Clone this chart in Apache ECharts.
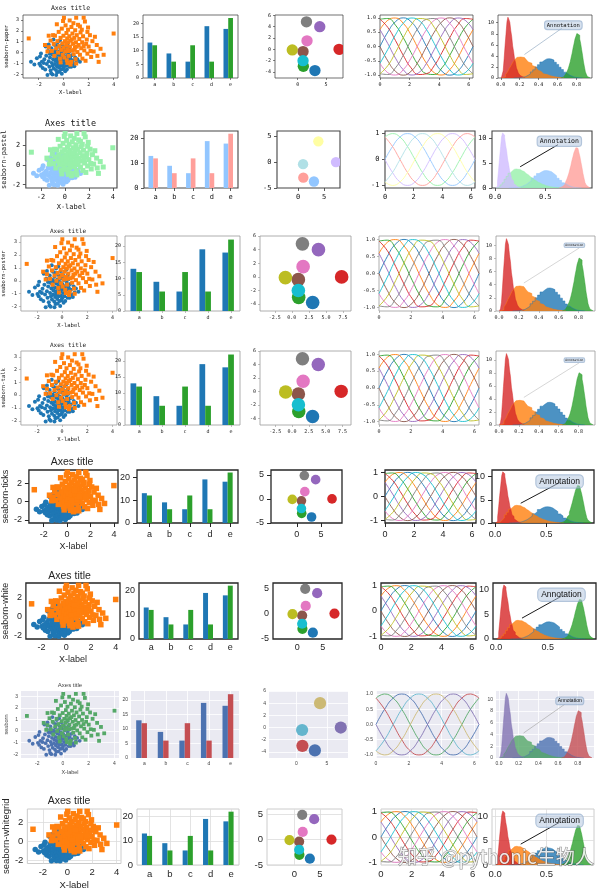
<!DOCTYPE html>
<html><head><meta charset="utf-8">
<script src="https://cdn.jsdelivr.net/npm/echarts@6/dist/echarts.min.js"></script>
<style>html,body{margin:0;padding:0;background:#fff}#c{width:600px;height:891px}</style>
</head><body><div id="c"></div>
<script>
// ---------------- DATA ----------------
const styleNames = ['seaborn-paper','seaborn-pastel','seaborn-poster','seaborn-talk','seaborn-ticks','seaborn-white','seaborn','seaborn-whitegrid'];
const barCategories = ['a','b','c','d','e'];
const barA = [13, 9, 6, 19, 18];
const barB = [12, 6, 12, 6, 22];
const scatterBlue = [[-2.62,-0.84],[-2.15,-0.52],[-1.95,-1.02],[-1.82,-0.08],[-1.68,-1.42],[-1.55,-0.62],[-1.48,-1.55],[-1.40,-0.30],[-1.35,-1.05],[-1.30,-2.05],[-1.25,0.15],[-1.20,-0.80],[-1.15,-1.30],[-1.10,-0.45],[-1.05,-1.65],[-1.00,-1.90],[-0.98,0.40],[-0.95,-0.95],[-0.92,-0.15],[-0.88,-1.20],[-0.85,-0.60],[-0.82,1.20],[-0.80,-1.45],[-0.76,-0.30],[-0.72,0.70],[-0.70,-1.05],[-0.68,-0.75],[-0.65,-0.05],[-0.62,-1.60],[-0.60,0.30],[-0.58,-0.50],[-0.55,-1.25],[-0.52,-1.80],[-0.50,-0.85],[-0.48,0.95],[-0.46,-0.20],[-0.44,-1.05],[-0.42,0.55],[-0.40,-0.60],[-0.38,-1.40],[-0.35,0.10],[-0.33,-0.95],[-0.30,1.10],[-0.28,-0.35],[-0.26,-1.20],[-0.24,0.40],[-0.22,-0.70],[-0.20,-1.55],[-0.18,-0.10],[-0.15,-0.85],[-0.12,0.75],[-0.10,-0.45],[-0.08,-1.15],[-0.05,0.20],[-0.03,-0.65],[0.00,-1.35],[0.02,-0.25],[0.05,0.50],[0.08,-0.95],[0.10,-0.50],[0.12,-1.70],[0.15,0.05],[0.18,-0.75],[0.20,-1.20],[0.23,0.30],[0.26,-0.40],[0.30,-0.95],[0.33,0.85],[0.36,-0.15],[0.40,-0.65],[0.44,-1.30],[0.48,0.10],[0.52,-0.50],[0.56,-0.95],[0.60,-1.30],[0.65,-0.25],[0.70,-0.70],[0.78,-1.05],[0.85,-1.25],[0.92,-0.45],[1.00,-0.90],[1.10,-0.60],[1.30,-0.85],[-1.60,-0.95],[-1.45,0.55],[-1.12,-0.10],[-0.90,-2.00],[-0.75,0.05],[-0.60,-2.05],[-0.35,-1.75],[-0.15,-1.95],[-2.35,-1.10],[-1.90,-0.35],[-1.75,-0.85],[-0.05,-1.50],[0.25,-1.55],[-1.20,0.75],[-0.55,0.60],[0.45,0.45],[-1.85,-1.20]];
const scatterOrange = [[-2.80,1.30],[4.00,1.75],[2.80,-0.85],[3.20,-0.20],[2.95,0.35],[2.65,0.70],[2.40,0.10],[2.30,1.05],[2.20,-0.40],[2.10,1.60],[2.00,0.55],[1.95,2.30],[1.90,-0.10],[1.85,1.20],[1.80,0.80],[1.70,2.85],[1.65,0.20],[1.60,3.20],[1.55,1.50],[1.50,-0.55],[1.48,0.95],[1.45,2.10],[1.40,0.40],[1.35,1.85],[1.30,-0.20],[1.25,1.25],[1.20,0.70],[1.15,2.55],[1.10,0.05],[1.05,1.60],[1.00,3.20],[0.98,0.95],[0.95,-0.60],[0.92,2.05],[0.90,0.45],[0.85,1.35],[0.80,-0.15],[0.78,2.70],[0.75,0.80],[0.70,1.75],[0.65,0.20],[0.62,2.35],[0.60,-0.85],[0.55,1.10],[0.50,0.55],[0.48,2.95],[0.45,1.50],[0.40,-0.30],[0.38,0.95],[0.35,2.10],[0.30,0.30],[0.28,1.30],[0.25,-0.70],[0.22,1.80],[0.20,0.70],[0.15,2.50],[0.12,0.10],[0.10,1.05],[0.05,-0.45],[0.02,3.20],[0.00,0.45],[-0.02,1.55],[-0.05,2.90],[-0.08,-0.20],[-0.10,0.85],[-0.15,2.20],[-0.20,0.25],[-0.25,1.35],[-0.30,-0.55],[-0.35,0.60],[-0.40,1.90],[-0.45,0.00],[-0.50,1.05],[-0.55,2.60],[-0.60,0.40],[-0.70,1.55],[-0.75,-0.30],[-0.80,0.80],[-0.85,1.60],[-0.95,0.15],[-1.05,1.10],[-1.20,0.50],[-1.30,0.10],[-1.50,0.70],[-1.20,1.55],[2.50,1.45],[1.75,-0.75],[2.15,0.15],[1.00,-1.00],[0.55,-1.10],[1.30,2.40],[0.85,0.25],[1.60,0.60],[0.30,-0.95],[2.70,-0.30],[-0.25,-0.90],[1.05,0.55],[0.65,1.20],[0.40,0.15],[1.90,1.90]];
// circle centres by colour-cycle index (index 1 lies outside the view)
const circleX = [3.05, null, 1.0, 7.3, 3.9, 0.95, 1.65, 1.55, -0.95, 0.95];
const circleY = [-3.75, null, -3.0, 0.0, 4.0, -0.4, 1.5, 4.85, -0.1, -2.0];
const circleRadius = 1.0;
// sinusoid samples
const sineX = [0, 0.524, 1.047, 1.571, 2.094, 2.618, 3.142, 3.665, 4.189, 4.712, 5.236, 5.760, 6.283];
const sine10 = [
 [0,0.5,0.866,1,0.866,0.5,0,-0.5,-0.866,-1,-0.866,-0.5,0],
 [0.588,0.914,0.995,0.809,0.407,-0.105,-0.588,-0.914,-0.995,-0.809,-0.407,0.105,0.588],
 [0.951,0.978,0.743,0.309,-0.208,-0.669,-0.951,-0.978,-0.743,-0.309,0.208,0.669,0.951],
 [0.951,0.669,0.208,-0.309,-0.743,-0.978,-0.951,-0.669,-0.208,0.309,0.743,0.978,0.951],
 [0.588,0.105,-0.407,-0.809,-0.995,-0.914,-0.588,-0.105,0.407,0.809,0.995,0.914,0.588],
 [0,-0.5,-0.866,-1,-0.866,-0.5,0,0.5,0.866,1,0.866,0.5,0],
 [-0.588,-0.914,-0.995,-0.809,-0.407,0.105,0.588,0.914,0.995,0.809,0.407,-0.105,-0.588],
 [-0.951,-0.978,-0.743,-0.309,0.208,0.669,0.951,0.978,0.743,0.309,-0.208,-0.669,-0.951],
 [-0.951,-0.669,-0.208,0.309,0.743,0.978,0.951,0.669,0.208,-0.309,-0.743,-0.978,-0.951],
 [-0.588,-0.105,0.407,0.809,0.995,0.914,0.588,0.105,-0.407,-0.809,-0.995,-0.914,-0.588]
];
const sine6 = [
 [0,0.5,0.866,1,0.866,0.5,0,-0.5,-0.866,-1,-0.866,-0.5,0],
 [0.866,1,0.866,0.5,0,-0.5,-0.866,-1,-0.866,-0.5,0,0.5,0.866],
 [0.866,0.5,0,-0.5,-0.866,-1,-0.866,-0.5,0,0.5,0.866,1,0.866],
 [0,-0.5,-0.866,-1,-0.866,-0.5,0,0.5,0.866,1,0.866,0.5,0],
 [-0.866,-1,-0.866,-0.5,0,0.5,0.866,1,0.866,0.5,0,-0.5,-0.866],
 [-0.866,-0.5,0,0.5,0.866,1,0.866,0.5,0,-0.5,-0.866,-1,-0.866]
];
// histograms (density), in plotting order C0..C3
const histBlueLeft = 0.1375, histBlueWidth = 0.025;
const histBlue = [0.01,0.03,0.06,0.15,0.25,0.48,0.71,1.1,1.48,2.0,2.42,2.9,3.2,3.46,3.5,3.42,3.25,2.85,2.46,1.95,1.53,1.06,0.74,0.45,0.27,0.13,0.07,0.02,0.01];
const histOrangeLeft = 0.01, histOrangeWidth = 0.02;
const histOrange = [0.05,0.2,0.62,1.05,1.75,2.3,2.95,3.35,3.72,3.8,3.74,3.7,3.45,3.28,2.9,2.66,2.28,2.02,1.66,1.46,1.15,0.98,0.75,0.63,0.46,0.38,0.27,0.22,0.14,0.12,0.07,0.06,0.03];
const histGreenLeft = 0.635, histGreenWidth = 0.01;
const histGreen = [0.07,0.13,0.2,0.33,0.46,0.68,0.93,1.33,1.76,2.33,2.95,3.75,4.5,5.45,6.2,7.05,7.55,8.05,7.95,7.75,7.05,6.25,5.15,4.1,2.9,2.0,1.1,0.66,0.28,0.13,0.04];
const histRedLeft = 0.005, histRedWidth = 0.01;
const histRed = [0.03,0.35,1.3,3.5,5.9,8.0,10.2,11.0,10.6,10.1,8.6,7.5,5.8,4.8,3.5,2.8,1.8,1.4,0.9,0.6,0.45,0.25,0.18,0.1,0.06];
const annotationText = 'Annotation';
const annotationXY = [0.25, 4.25];
// tick labels
const scatterXTicks = [-2, 0, 2, 4];
const scatterYTicksFine = [-2, -1, 0, 1, 2, 3], scatterYTicksCoarse = [-2, 0, 2];
const barYTicksFine = [0, 5, 10, 15, 20], barYTicksCoarse = [0, 10, 20];
const circleYTicksFine = [-4, -2, 0, 2, 4, 6], circleYTicksCoarse = [-5, 0, 5];
const circleXTicks = [0, 5], circleXTicksWide = [-2.5, 0, 2.5, 5, 7.5];
const sineXTicks = [0, 2, 4, 6];
const sineYTicksFine = [-1, -0.5, 0, 0.5, 1], sineYTicksCoarse = [-1, 0, 1];
const histXTicksFine = [0, 0.2, 0.4, 0.6, 0.8], histXTicksCoarse = [0, 0.5];
const histYTicksFine = [0, 2, 4, 6, 8, 10], histYTicksCoarse = [0, 5, 10];
const watermark = '知乎 @pythonic生物人';

// ---------------- STYLES / LAYOUT ----------------
const tab10 = ['#1f77b4','#ff7f0e','#2ca02c','#d62728','#9467bd','#8c564b','#e377c2','#7f7f7f','#bcbd22','#17becf'];
const pastel = ['#92C6FF','#97F0AA','#FF9F9A','#D0BBFF','#FFFEA3','#B0E0E6'];
const deep = ['#4C72B0','#55A868','#C44E52','#8172B2','#CCB974','#64B5CD'];
const palettes = {tab10, pastel, deep};
const MONO = '"DejaVu Sans Mono", "Liberation Mono", monospace';
const SANS = '"Liberation Sans", Arial, sans-serif';
const rowStyles = [
 {top:15, bottom:78, cols:[[23,118],[143,238],[275,343],[380,473],[498,592]], pal:'tab10', font:MONO, tickFs:5, nameFs:5.5, titleFs:6.5, titleY:8, ylabelX:8, text:'#111', frame:'#333', frameW:0.7, tickLen:2, margin:2, ms:4, dense:true, wideCircle:false,
  ann:{fs:5.5, color:'#a3b8cc', w:0.8, head:4, start:[0.68,0.79]}},
 {top:131, bottom:188, cols:[[24,117],[144,238],[277,340],[385,475],[492,592]], pal:'pastel', font:MONO, tickFs:7, nameFs:7, titleFs:8.5, titleY:124, ylabelX:9, text:'#111', frame:'#444', frameW:1.1, tickLen:3, margin:2.5, ms:5, dense:false, wideCircle:false,
  ann:{fs:6.5, color:'#000', w:0.9, head:5, start:[0.66,0.76]}},
 {top:236, bottom:311, cols:[[19,117],[125,240],[260,351],[379,479],[496,595]], pal:'tab10', font:MONO, tickFs:5, nameFs:5.5, titleFs:6, titleY:231, ylabelX:6, text:'#222', frame:'#999', frameW:0.8, tickLen:2, margin:2, ms:4, dense:true, wideCircle:true,
  ann:{fs:3, color:'#bbb', w:0.6, head:3, start:[0.84,0.84]}},
 {top:351, bottom:425, cols:[[19,117],[125,240],[260,351],[379,479],[496,595]], pal:'tab10', font:MONO, tickFs:5, nameFs:5.5, titleFs:6, titleY:345, ylabelX:6, text:'#222', frame:'#999', frameW:0.8, tickLen:2, margin:2, ms:4, dense:true, wideCircle:true,
  ann:{fs:3, color:'#bbb', w:0.6, head:3, start:[0.84,0.84]}},
 {top:470, bottom:523, cols:[[26,118],[137,238],[271,342],[385,476],[492,594]], pal:'tab10', font:SANS, tickFs:9, nameFs:9, titleFs:10.5, titleY:462, ylabelX:8, text:'#262626', frame:'#262626', frameW:1.3, tickLen:4, margin:3, ms:5.5, dense:false, wideCircle:false,
  ann:{fs:8.5, color:'#000', w:0.9, head:6, start:[0.66,0.76]}},
 {top:583, bottom:639, cols:[[19,120],[139,238],[273,342],[381,476],[493,596]], pal:'tab10', font:SANS, tickFs:9, nameFs:9, titleFs:10.5, titleY:576, ylabelX:7, text:'#262626', frame:'#262626', frameW:1.3, tickLen:0, margin:4, ms:5.5, dense:false, wideCircle:false,
  ann:{fs:8.5, color:'#000', w:0.9, head:6, start:[0.66,0.76]}},
 {top:691, bottom:758, cols:[[21,119],[131,239],[269,348],[376,479],[496,594]], pal:'deep', font:SANS, tickFs:5, nameFs:5.5, titleFs:6, titleY:685, ylabelX:7, text:'#444', frame:null, frameW:0, bg:'#EAEAF2', grid:'#ffffff', gridW:0.8, tickLen:0, margin:3, ms:3.8, dense:true, wideCircle:false,
  ann:{fs:5, color:'#aaa', w:0.7, head:3, start:[0.7,0.8]}},
 {top:809, bottom:865, cols:[[17,121],[137,239],[267,342],[381,477],[492,594]], pal:'tab10', font:SANS, tickFs:9.5, nameFs:9.5, titleFs:10.5, titleY:801, ylabelX:7, text:'#262626', frame:'#cccccc', frameW:1, grid:'#dcdcdc', gridW:0.8, tickLen:0, margin:4, ms:5.5, dense:false, wideCircle:false,
  ann:{fs:8.5, color:'#000', w:0.9, head:6, start:[0.66,0.76]}}
];
const scatterRange = {x:[-3.26, 4.35], y:[-2.33, 3.45]};
const barRange = {x:[-0.365, 4.64], y:[0, 23.1]};
const sineRange = {x:[0, 6.283], y:[-1.1, 1.1]};
const histRange = {x:[-0.03, 0.965], y:[0, 11.4]};

// ---------------- BUILD ----------------
const fmt = d => (v => Number(v).toFixed(d));
const option = {animation:false, backgroundColor:'#ffffff', grid:[], xAxis:[], yAxis:[], series:[], graphic:[]};

function axis(dim, gi, st, range, ticks, decimals, extra) {
  return Object.assign({
    type:'value', gridIndex:gi, min:range[0], max:range[1], scale:true,
    axisLine:{show:false, onZero:false},
    axisTick:{show: st.tickLen > 0, inside:false, length: st.tickLen, customValues: ticks, lineStyle:{color: st.frame || st.text, width: Math.max(0.6, st.frameW*0.8)}},
    axisLabel:{show:true, customValues: ticks, formatter: fmt(decimals), fontSize: st.tickFs, fontFamily: st.font, color: st.text, margin: st.margin + st.tickLen, hideOverlap:false},
    splitLine:{show: !!st.grid, lineStyle:{color: st.grid || '#fff', width: st.gridW || 0.8}}
  }, extra || {});
}

function histData(left, width, h) {
  const d = [[left, 0]];
  h.forEach((v, i) => d.push([left + i*width, v]));
  d.push([left + h.length*width, 0]);
  return d;
}

rowStyles.forEach((st, r) => {
  const pal = palettes[st.pal];
  const H = st.bottom - st.top;
  const g0 = r*5;
  st.cols.forEach(c => {
    option.grid.push({left:c[0], top:st.top, width:c[1]-c[0], height:H, show:true,
      borderColor: st.frame || 'rgba(0,0,0,0)', borderWidth: st.frame ? st.frameW : 0,
      backgroundColor: st.bg || 'rgba(0,0,0,0)'});
  });
  // ---- col 0 scatter
  const sc = st.cols[0];
  option.xAxis.push(axis('x', g0, st, scatterRange.x, scatterXTicks, 0, {
    name:'X-label', nameLocation:'middle', nameGap: st.margin + st.tickLen + st.tickFs + 3,
    nameTextStyle:{fontSize: st.nameFs, fontFamily: st.font, color: st.text}}));
  option.yAxis.push(axis('y', g0, st, scatterRange.y, st.dense ? scatterYTicksFine : scatterYTicksCoarse, 0, {
    name: styleNames[r], nameLocation:'middle', nameGap: sc[0] - st.ylabelX - st.nameFs/2,
    nameTextStyle:{fontSize: st.nameFs, fontFamily: st.font, color: st.text}}));
  option.series.push({type:'scatter', xAxisIndex:g0, yAxisIndex:g0, data: scatterBlue, symbol:'circle', symbolSize: st.ms, itemStyle:{color: pal[0], opacity:1}, clip:true, silent:true});
  option.series.push({type:'scatter', xAxisIndex:g0, yAxisIndex:g0, data: scatterOrange, symbol:'rect', symbolSize: st.ms, itemStyle:{color: pal[1], opacity:1}, clip:true, silent:true});
  option.graphic.push({type:'text', x:(sc[0]+sc[1])/2, y: st.titleY, silent:true,
    style:{text:'Axes title', fontSize: st.titleFs, fontFamily: st.font, fill: st.text, align:'center', verticalAlign:'middle'}});

  // ---- col 1 bars
  const g1 = g0 + 1;
  option.xAxis.push(axis('x', g1, st, barRange.x, barCategories.map((_, i) => i + 0.25), 2, {
    axisLabel:{show:true, customValues: barCategories.map((_, i) => i + 0.25), formatter: v => barCategories[Math.round(v - 0.25)],
      fontSize: st.tickFs, fontFamily: st.font, color: st.text, margin: st.margin + st.tickLen}}));
  option.yAxis.push(axis('y', g1, st, barRange.y, st.dense ? barYTicksFine : barYTicksCoarse, 0));
  const barRender = (params, api) => {
    const x = api.value(0), y = api.value(1);
    const p0 = api.coord([x - 0.125, y]), p1 = api.coord([x + 0.125, 0]);
    return {type:'rect', shape:{x:p0[0], y:p0[1], width:p1[0]-p0[0], height:p1[1]-p0[1]}, style:{fill: api.visual('color')}};
  };
  option.series.push({type:'custom', xAxisIndex:g1, yAxisIndex:g1, renderItem: barRender, data: barA.map((v, i) => [i, v]), itemStyle:{color: pal[0]}, clip:true, silent:true});
  option.series.push({type:'custom', xAxisIndex:g1, yAxisIndex:g1, renderItem: barRender, data: barB.map((v, i) => [i + 0.25, v]), itemStyle:{color: pal[2]}, clip:true, silent:true});

  // ---- col 2 circles (equal aspect)
  const g2 = g0 + 2;
  const cc = st.cols[2];
  const W2 = cc[1] - cc[0];
  let cxr = [-4, 8], cyr = [-5, 6];
  if (W2 / H > 12/11) { const w = 11*W2/H; cxr = [2 - w/2, 2 + w/2]; }
  else { const h = 12*H/W2; cyr = [0.5 - h/2, 0.5 + h/2]; }
  option.xAxis.push(axis('x', g2, st, cxr, st.wideCircle ? circleXTicksWide : circleXTicks, st.wideCircle ? 1 : 0));
  option.yAxis.push(axis('y', g2, st, cyr, st.dense ? circleYTicksFine : circleYTicksCoarse, 0));
  const circData = [];
  circleX.forEach((x, i) => { if (x !== null && i < pal.length) circData.push({value:[x, circleY[i]], itemStyle:{color: pal[i]}}); });
  option.series.push({type:'custom', xAxisIndex:g2, yAxisIndex:g2, clip:true, silent:true, data: circData,
    renderItem:(params, api) => {
      const c = api.coord([api.value(0), api.value(1)]);
      const s = api.size([circleRadius, circleRadius]);
      return {type:'circle', shape:{cx:c[0], cy:c[1], r:(s[0]+s[1])/2}, style:{fill: api.visual('color')}};
    }});

  // ---- col 3 sinusoids
  const g3 = g0 + 3;
  option.xAxis.push(axis('x', g3, st, sineRange.x, sineXTicks, 0));
  option.yAxis.push(axis('y', g3, st, sineRange.y, st.dense ? sineYTicksFine : sineYTicksCoarse, st.dense ? 1 : 0));
  const curves = pal.length === 10 ? sine10 : sine6;
  curves.forEach((cv, k) => {
    option.series.push({type:'line', xAxisIndex:g3, yAxisIndex:g3, data: sineX.map((x, j) => [x, cv[j]]), smooth:0.5,
      symbol:'none', lineStyle:{color: pal[k], width: 0.9}, itemStyle:{color: pal[k]}, clip:true, silent:true});
  });

  // ---- col 4 histograms
  const g4 = g0 + 4;
  option.xAxis.push(axis('x', g4, st, histRange.x, st.dense ? histXTicksFine : histXTicksCoarse, 1));
  option.yAxis.push(axis('y', g4, st, histRange.y, st.dense ? histYTicksFine : histYTicksCoarse, 0));
  [[histBlueLeft, histBlueWidth, histBlue], [histOrangeLeft, histOrangeWidth, histOrange],
   [histGreenLeft, histGreenWidth, histGreen], [histRedLeft, histRedWidth, histRed]].forEach((h, k) => {
    option.series.push({type:'line', xAxisIndex:g4, yAxisIndex:g4, data: histData(h[0], h[1], h[2]), step:'end',
      symbol:'none', lineStyle:{color: pal[k], width:0.6, opacity:0.8}, areaStyle:{color: pal[k], opacity:0.8}, clip:true, silent:true});
  });
  // annotation: text anchored at (0.9, 0.9) of the axes, arrow to annotationXY
  const fx = f => histRange.x[0] + f*(histRange.x[1] - histRange.x[0]);
  const fy = f => histRange.y[0] + f*(histRange.y[1] - histRange.y[0]);
  const a = st.ann;
  option.series.push({type:'scatter', xAxisIndex:g4, yAxisIndex:g4, data:[[fx(0.9), fy(0.9)]], symbol:'circle', symbolSize:1,
    itemStyle:{color:'rgba(0,0,0,0)'}, silent:true, z:5, clip:false,
    label:{show:true, formatter: annotationText, position:[0,0], align:'right', verticalAlign:'top', fontSize: a.fs, fontFamily: st.font, color:'#111', opacity:1,
      backgroundColor:'rgba(176,196,222,0.5)', borderColor:'rgba(130,160,195,0.6)', borderWidth:0.6, borderRadius: a.fs*0.5, padding:[a.fs*0.25, a.fs*0.4]},
    markLine:{silent:true, animation:false, symbol:['none','arrow'], symbolSize:[0, a.head],
      lineStyle:{color: a.color, width: a.w, type:'solid'}, label:{show:false}, emphasis:{disabled:true},
      data:[[{coord:[fx(a.start[0]), fy(a.start[1])]}, {coord: annotationXY}]]}});
});

option.graphic.push({type:'text', x:496, y:857, silent:true, z:100,
  style:{text: watermark, fontSize:19, fontFamily:'"Noto Sans CJK SC", sans-serif', fill:'rgba(255,255,255,0.85)', stroke:'rgba(70,70,70,0.6)', lineWidth:1.1, align:'center', verticalAlign:'middle'}});

const chart = echarts.init(document.getElementById('c'), null, {renderer:'canvas', width:600, height:891});
chart.setOption(option);
</script></body></html>
